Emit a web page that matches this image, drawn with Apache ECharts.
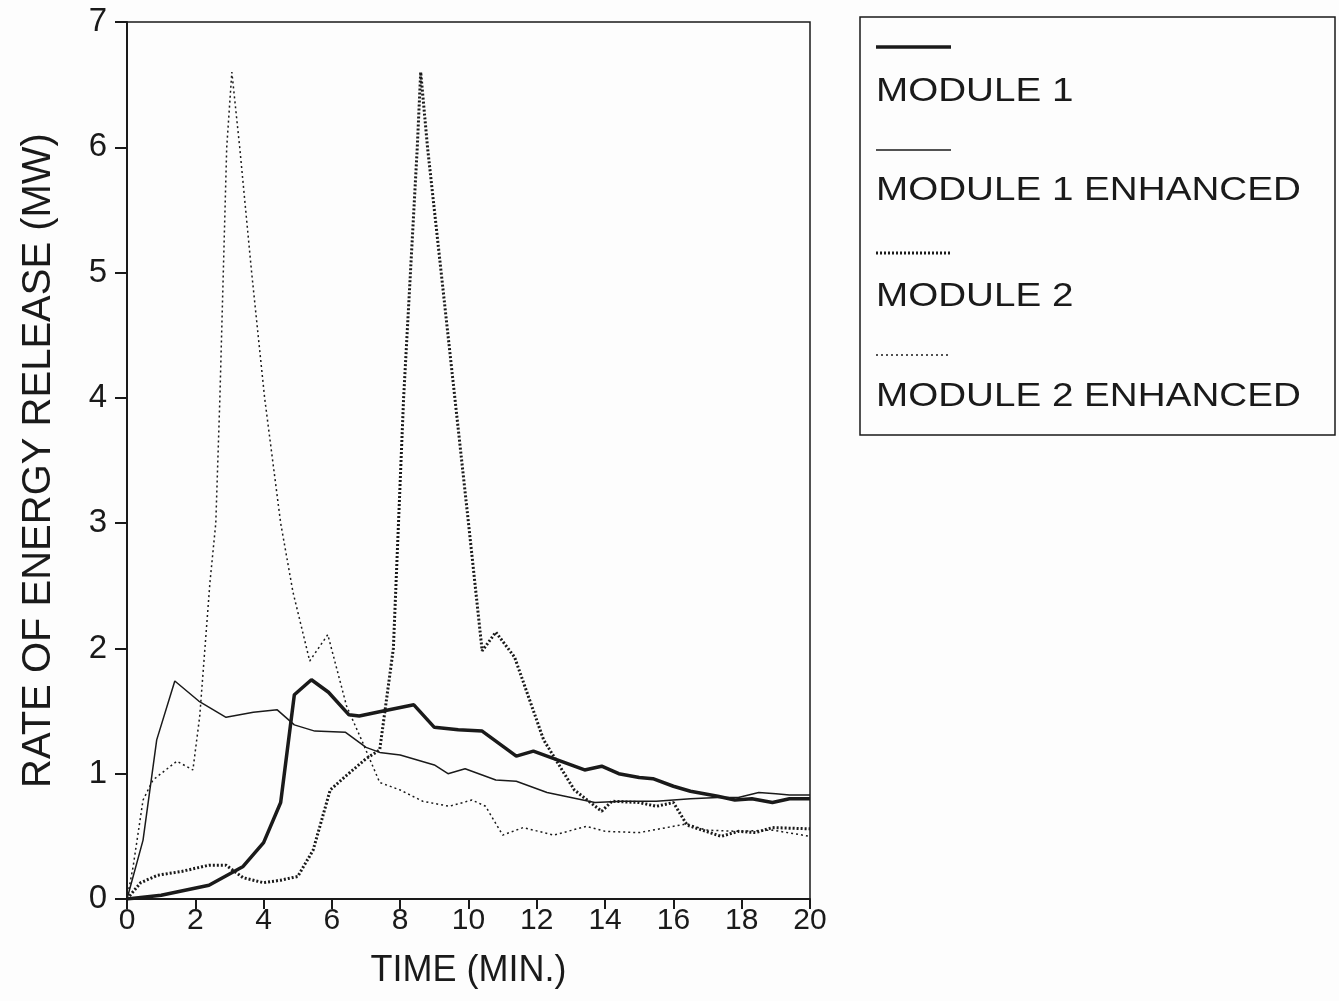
<!DOCTYPE html>
<html>
<head>
<meta charset="utf-8">
<script src="https://cdn.jsdelivr.net/npm/echarts@6/dist/echarts.min.js"></script>
<style>
html, body { margin: 0; padding: 0; background: #fdfdfd; }
#chart { width: 1339px; height: 1001px; }
</style>
</head>
<body>
<div id="chart"></div>
<script>
// series names, in legend order
var seriesNames = ['MODULE 1', 'MODULE 1 ENHANCED', 'MODULE 2', 'MODULE 2 ENHANCED'];

// time (min) and rate (MW)
var m1Time = [0, 1.0, 2.4, 3.4, 4.0, 4.5, 4.9, 5.4, 5.9, 6.5, 6.8, 7.5, 8.4, 9.0, 9.7, 10.4, 11.0, 11.4, 11.9, 12.5, 13.4, 13.9, 14.4, 15.0, 15.4, 16.0, 16.5, 17.3, 17.8, 18.3, 18.9, 19.4, 20];
var m1Rate = [0, 0.03, 0.11, 0.26, 0.45, 0.77, 1.63, 1.75, 1.65, 1.47, 1.46, 1.5, 1.55, 1.37, 1.35, 1.34, 1.22, 1.14, 1.18, 1.12, 1.03, 1.06, 1.0, 0.97, 0.96, 0.9, 0.86, 0.82, 0.79, 0.8, 0.77, 0.8, 0.8];

var m1eTime = [0, 0.47, 0.87, 1.4, 2.1, 2.9, 3.7, 4.4, 4.9, 5.5, 6.4, 7.0, 7.4, 8.0, 9.0, 9.4, 9.9, 10.8, 11.4, 12.3, 13.0, 13.7, 14.5, 15.5, 16.5, 17.3, 17.9, 18.5, 19.0, 19.4, 20];
var m1eRate = [0, 0.47, 1.27, 1.74, 1.58, 1.45, 1.49, 1.51, 1.39, 1.34, 1.33, 1.21, 1.17, 1.15, 1.07, 1.0, 1.04, 0.95, 0.94, 0.85, 0.81, 0.77, 0.78, 0.78, 0.8, 0.81, 0.81, 0.85, 0.84, 0.83, 0.83];

var m2Time = [0, 0.4, 0.9, 1.6, 2.4, 2.9, 3.4, 4.0, 4.5, 5.0, 5.45, 5.95, 6.4, 7.0, 7.4, 7.8, 8.1, 8.5, 8.6, 8.8, 9.6, 10.0, 10.4, 10.8, 11.35, 12.2, 13.1, 13.9, 14.2, 15.0, 15.5, 16.0, 16.4, 16.95, 17.4, 17.9, 18.4, 18.9, 20];
var m2Rate = [0, 0.13, 0.19, 0.22, 0.27, 0.27, 0.17, 0.13, 0.15, 0.18, 0.39, 0.87, 0.98, 1.12, 1.19, 2.0, 4.0, 6.0, 6.6, 6.0, 4.0, 3.0, 1.98, 2.13, 1.93, 1.27, 0.87, 0.7, 0.78, 0.77, 0.74, 0.77, 0.59, 0.54, 0.5, 0.54, 0.53, 0.57, 0.56];

var m2eTime = [0, 0.18, 0.47, 0.76, 1.46, 1.93, 2.13, 2.43, 2.6, 2.72, 2.92, 3.07, 3.3, 3.65, 4.03, 4.5, 4.86, 5.35, 5.88, 6.43, 6.9, 7.4, 8.0, 8.66, 9.44, 10.1, 10.5, 11.0, 11.6, 12.5, 13.45, 14.0, 15.0, 16.4, 16.95, 17.9, 18.9, 20];
var m2eRate = [0, 0.26, 0.79, 0.95, 1.1, 1.03, 1.46, 2.53, 3.0, 4.0, 6.0, 6.6, 6.0, 5.0, 4.0, 3.0, 2.45, 1.9, 2.11, 1.54, 1.25, 0.93, 0.87, 0.78, 0.74, 0.79, 0.74, 0.51, 0.57, 0.51, 0.58, 0.54, 0.53, 0.6, 0.55, 0.54, 0.55, 0.5];

var ink = '#1a1a1a';
var font = 'Liberation Sans, Arial, sans-serif';

function pairs(t, v) {
	var out = [];
	for (var i = 0; i < t.length; i++) {
		out.push([t[i], v[i]]);
	}
	return out;
}

// line look for each series (same order as seriesNames)
var styles = [
	{ width: 3.5, type: 'solid' },
	{ width: 1.5, type: 'solid' },
	{ width: 3, type: [2, 2] },
	{ width: 1.5, type: [2, 3] }
];
var dataSets = [pairs(m1Time, m1Rate), pairs(m1eTime, m1eRate), pairs(m2Time, m2Rate), pairs(m2eTime, m2eRate)];

var series = [];
for (var i in seriesNames) {
	series.push({
		name: seriesNames[i],
		type: 'line',
		data: dataSets[i],
		showSymbol: false,
		animation: false,
		lineStyle: { color: ink, width: styles[i].width, type: styles[i].type }
	});
}

// legend box drawn by hand: sample line above each name
var legendItems = [];
var rowY = [47, 150, 253, 355];
var textY = [92, 191, 297, 397];
legendItems.push({
	type: 'rect',
	shape: { x: 860, y: 17, width: 475, height: 418 },
	style: { fill: 'none', stroke: ink, lineWidth: 1.5 }
});
for (var k = 0; k < seriesNames.length; k++) {
	legendItems.push({
		type: 'line',
		shape: { x1: 876, y1: rowY[k], x2: 951, y2: rowY[k] },
		style: { stroke: ink, lineWidth: styles[k].width, lineDash: styles[k].type == 'solid' ? null : styles[k].type }
	});
	// the scanned type is set a bit wider than Arial
	legendItems.push({
		type: 'text',
		x: 876,
		y: textY[k],
		scaleX: 1.17,
		style: { text: seriesNames[k], fill: ink, font: '33px ' + font, verticalAlign: 'middle' }
	});
}

var chart = echarts.init(document.getElementById('chart'));
chart.setOption({
	backgroundColor: '#fdfdfd',
	grid: { left: 127, right: 529, top: 22, bottom: 102, show: true, borderColor: ink, borderWidth: 1.5 },
	xAxis: {
		type: 'value', min: 0, max: 20, interval: 2,
		name: 'TIME (MIN.)', nameLocation: 'middle', nameGap: 54,
		nameTextStyle: { color: ink, fontSize: 36, fontFamily: font },
		axisLine: { lineStyle: { color: ink, width: 2 } },
		axisTick: { length: 10, lineStyle: { color: ink, width: 2 } },
		axisLabel: { color: ink, fontSize: 30, fontFamily: font, margin: 7 },
		splitLine: { show: false }
	},
	yAxis: {
		type: 'value', min: 0, max: 7, interval: 1,
		name: 'RATE OF ENERGY RELEASE (MW)', nameLocation: 'middle', nameGap: 68,
		nameTextStyle: { color: ink, fontSize: 40, fontFamily: font },
		axisLine: { lineStyle: { color: ink, width: 2 } },
		axisTick: { length: 12, lineStyle: { color: ink, width: 2 } },
		axisLabel: { color: ink, fontSize: 33, fontFamily: font, margin: 20 },
		splitLine: { show: false }
	},
	graphic: legendItems,
	series: series
});
</script>
</body>
</html>
